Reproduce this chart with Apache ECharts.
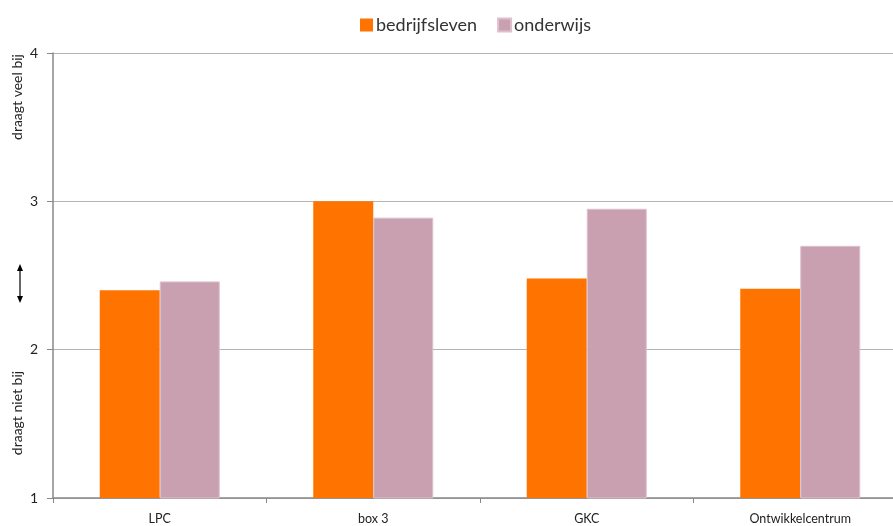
<!DOCTYPE html>
<html><head><meta charset="utf-8">
<script src="https://cdn.jsdelivr.net/npm/echarts@6/dist/echarts.min.js"></script>
<style>html,body{margin:0;padding:0;background:#fff;overflow:hidden}#c{width:907px;height:526px}</style>
</head><body><div id="c"></div>
<script>
const categories = ['LPC', 'box 3', 'GKC', 'Ontwikkelcentrum'];
const bedrijfsleven = [2.40, 3.00, 2.48, 2.41];
const onderwijs = [2.46, 2.89, 2.95, 2.70];
const yTicks = [1, 2, 3, 4];

const chart = echarts.init(document.getElementById('c'));
const font = 'Lato, "Open Sans", sans-serif';
chart.setOption({
  animation: false,
  textStyle: { fontFamily: font },
  legend: {
    top: 11, left: 355, itemWidth: 13, itemHeight: 13, itemGap: 20,
    icon: 'rect',
    textStyle: { fontSize: 18, color: '#333', fontFamily: font, padding: [0,0,0,-2] },
    data: ['bedrijfsleven', 'onderwijs']
  },
  grid: { left: 53, right: 0, top: 53, bottom: 28, containLabel: false },
  xAxis: {
    type: 'category', data: categories,
    axisLine: { lineStyle: { color: '#888', width: 1.5 } },
    axisTick: { show: true, length: 5, lineStyle: { color: '#888' } },
    axisLabel: { color: '#222', fontSize: 12.5, margin: 14, fontFamily: font }
  },
  yAxis: {
    type: 'value', min: yTicks[0], max: yTicks[yTicks.length - 1], interval: 1,
    axisLine: { show: true, lineStyle: { color: '#888', width: 1.5 } },
    axisTick: { show: true, length: 6, lineStyle: { color: '#888' } },
    splitLine: { lineStyle: { color: '#b5b5b5', width: 1.2 } },
    axisLabel: { color: '#222', fontSize: 14, margin: 15, fontFamily: font }
  },
  series: [
    { name: 'bedrijfsleven', type: 'bar', data: bedrijfsleven, barWidth: 60, barGap: '0%',
      itemStyle: { color: '#FF7300' } },
    { name: 'onderwijs', type: 'bar', data: onderwijs, barWidth: 60,
      itemStyle: { color: '#C9A0B0', borderColor: '#dcc0cb', borderWidth: 1 } }
  ],
  graphic: [
    { type: 'text', x: 17, y: 97, rotation: Math.PI / 2,
      style: { text: 'draagt veel bij', fill: '#222', font: '14px ' + font, align: 'center', verticalAlign: 'middle' } },
    { type: 'text', x: 17, y: 413, rotation: Math.PI / 2,
      style: { text: 'draagt niet bij', fill: '#222', font: '14px ' + font, align: 'center', verticalAlign: 'middle' } },
    { type: 'line', shape: { x1: 20, y1: 268, x2: 20, y2: 299 }, style: { stroke: '#000', lineWidth: 1.2 } },
    { type: 'polygon', shape: { points: [[20, 264], [17, 271], [23, 271]] }, style: { fill: '#000' } },
    { type: 'polygon', shape: { points: [[20, 303], [17, 296], [23, 296]] }, style: { fill: '#000' } }
  ]
});
</script></body></html>
